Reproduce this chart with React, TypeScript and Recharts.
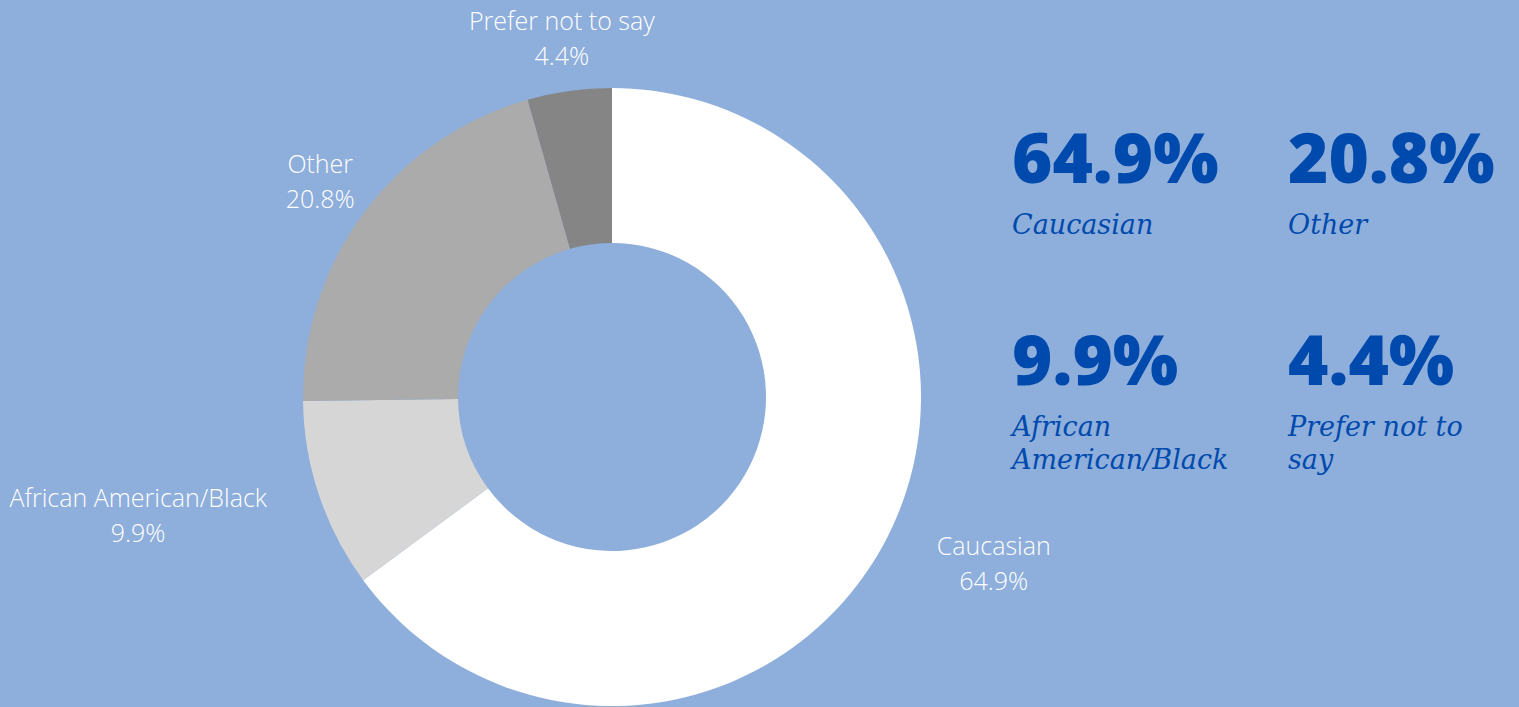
import React from 'react';
import { PieChart, Pie, Cell } from 'recharts';

const categories = ['Caucasian', 'African American/Black', 'Other', 'Prefer not to say'];
const shares = [64.9, 9.9, 20.8, 4.4];
const sliceColors = ['#ffffff', '#d6d6d6', '#ababab', '#858585'];

const BG = '#8eaedb';
const BLUE = '#004aad';
const RAD = Math.PI / 180;
const LABEL_FONT = "300 25px 'Open Sans'";

const data = categories.map((name, i) => ({ name, value: shares[i] }));
const summary = [...data].sort((a, b) => b.value - a.value);

let ctx: CanvasRenderingContext2D | null = null;
const measure = (s: string) => {
  if (!ctx) ctx = document.createElement('canvas').getContext('2d');
  if (!ctx) return s.length * 11;
  ctx.font = LABEL_FONT;
  return ctx.measureText(s).width;
};

// two-line outside label: block anchored by its edge, lines centred in the block
const renderLabel = (props: any) => {
  const { cx, cy, midAngle, outerRadius, name, value } = props;
  const r = outerRadius + 55;
  const sin = Math.cos(-midAngle * RAD);
  const x = cx + r * sin;
  const y = cy + r * Math.sin(-midAngle * RAD);
  const pct = `${value.toFixed(1)}%`;
  const w = Math.max(measure(name), measure(pct));
  let mid = x;
  if (Math.abs(sin) > 0.85) mid = sin > 0 ? x + w / 2 : x - w / 2;
  return (
    <text
      x={mid}
      y={y}
      textAnchor="middle"
      fill="#ffffff"
      fontFamily="'Open Sans', sans-serif"
      fontWeight={300}
      fontSize={25}
    >
      <tspan x={mid} dy={-6}>{name}</tspan>
      <tspan x={mid} dy={35}>{pct}</tspan>
    </text>
  );
};

export default function App() {
  return (
    <div style={{ position: 'absolute', left: 0, top: 0, width: 1519, height: 707, background: BG, overflow: 'hidden' }}>
      <PieChart width={1519} height={707} margin={{ top: 0, right: 0, bottom: 0, left: 0 }}>
        <Pie
          data={data}
          dataKey="value"
          nameKey="name"
          cx={612}
          cy={397}
          innerRadius={154}
          outerRadius={309}
          startAngle={90}
          endAngle={-270}
          stroke="none"
          label={renderLabel}
          labelLine={false}
          isAnimationActive={false}
        >
          {data.map((d, i) => (
            <Cell key={d.name} fill={sliceColors[i]} />
          ))}
        </Pie>
      </PieChart>
      {summary.map((d, i) => {
        const col = i % 2;
        const row = Math.floor(i / 2);
        const left = 1012 + col * 276;
        const top = 122 + row * 202;
        return (
          <div key={d.name} style={{ position: 'absolute', left, top, color: BLUE }}>
            <div
              style={{
                fontFamily: "'Open Sans', sans-serif",
                fontWeight: 800,
                fontSize: 69,
                lineHeight: '68px',
                whiteSpace: 'nowrap',
              }}
            >
              {d.value.toFixed(1)}%
            </div>
            <div
              style={{
                marginTop: 18,
                width: 200,
                fontFamily: "'DejaVu Serif', serif",
                fontStyle: 'italic',
                fontSize: 27,
                lineHeight: '33px',
                whiteSpace: 'normal',
              }}
            >
              {d.name.replace('/', '/\u2060')}
            </div>
          </div>
        );
      })}
    </div>
  );
}
